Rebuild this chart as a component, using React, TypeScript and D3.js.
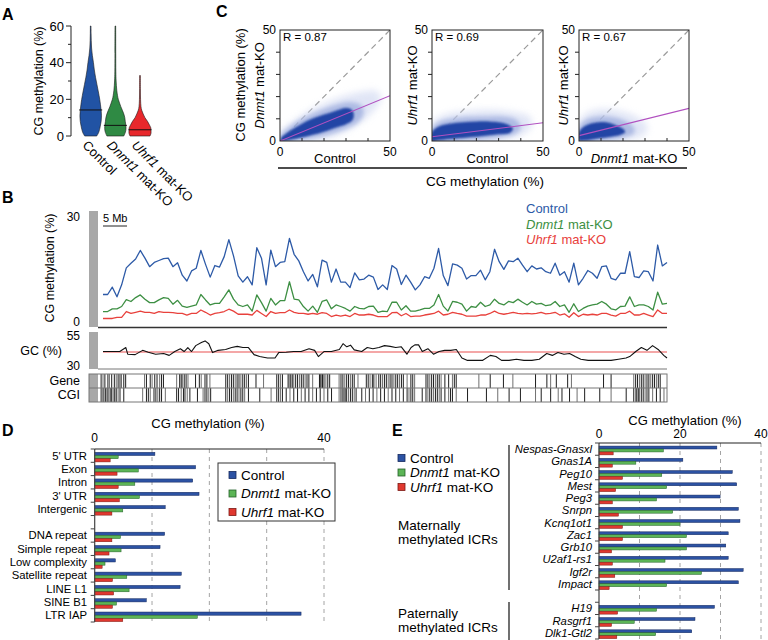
import React from 'react';
import * as d3 from 'd3';

const FONT = '"Liberation Sans", Arial, Helvetica, sans-serif';

// ---------------- Panel A: violins ([value %, relative density]) ----------------
const violinNames = ['Control', 'Dnmt1', 'Uhrf1'];
const violinControl = [[0,0.55],[2,0.73],[5,0.86],[8,0.95],[11,0.98],[14,0.95],[17,0.89],[20,0.82],[24,0.7],[28,0.57],[32,0.44],[36,0.33],[40,0.25],[44,0.15],[48,0.08],[52,0.05],[56,0.035],[60,0.03]];
const violinDnmt1 = [[0,0.77],[2,0.91],[4,0.97],[6,0.95],[8,0.9],[10,0.86],[12,0.77],[14,0.64],[16,0.5],[18,0.38],[20,0.27],[22,0.2],[25,0.13],[30,0.07],[35,0.045],[45,0.035],[60,0.03]];
const violinUhrf1 = [[0,0.91],[1.5,1.0],[3,1.0],[4.5,0.98],[6,0.86],[8,0.68],[10,0.45],[12,0.29],[14,0.16],[16,0.09],[20,0.05],[26,0.035],[33,0.03]];
const violinMedians = [14.2, 5.8, 3.4];

// ---------------- Panel C: scatter density clouds ----------------
const scatterR = ['0.87', '0.69', '0.67'];
const fitStart = [0, 1.9, 2.4];
const fitEnd = [20.4, 8.2, 14.7];
const cloudCore1 = [[0.5,1.5],[3,3.5],[6,5.5],[10,7.8],[14,9.8],[18,11.3],[22,12.5],[26,13.8],[29,14.8],[32,14.5],[33.5,12.5],[33,9.5],[30,7.6],[26,6.2],[20,4.2],[15,2.8],[10,1.6],[5,0.6],[1.5,0],[0.3,0.2]];
const cloudMid1 = [[0,2.5],[3,5.5],[8,9],[14,12],[20,14.5],[26,16.5],[32,17.5],[37,16],[38,12],[35,8],[30,5.5],[22,2.8],[14,1],[6,0],[0,0]];
const cloudOuter1 = [[0,4],[5,8],[12,13],[20,17],[28,20],[36,22],[44,22.5],[46,19],[42,13],[36,8],[28,3.5],[18,0.5],[10,0],[0,0]];
const cloudCore2 = [[0,4],[3,6.5],[8,7.8],[14,8.5],[20,8.8],[26,8.8],[31,8.3],[35,7],[36.5,5.5],[35,3.6],[30,3],[24,2.4],[16,1.6],[8,0.9],[3,0.3],[0,0]];
const cloudMid2 = [[0,6],[4,9],[12,10.5],[22,11],[32,11],[38,9.5],[40,6],[37,3],[30,1.5],[15,0],[0,0]];
const cloudOuter2 = [[0,8],[6,12],[16,13.5],[28,14],[37,13],[44,11],[45,7],[41,3],[30,0.5],[15,0],[0,0]];
const cloudCore3 = [[0,0.5],[0,4],[2,6.3],[5,7.8],[9,8.5],[13,8.3],[17,7],[20,5.5],[21,4],[19,2.8],[14,1.8],[8,1],[3,0.2]];
const cloudMid3 = [[0,6.5],[3,9.5],[9,11],[15,10.8],[21,9],[25,6],[25,3.5],[20,1.5],[10,0],[0,0]];
const cloudOuter3 = [[0,9],[4,13],[11,14.5],[19,13.5],[26,11],[31,7],[30,3],[22,0.5],[10,0],[0,0]];

// ---------------- Panel B: chromosome tracks (1 bin ≈ 0.97 Mb) ----------------
const binSizeMb = 0.97;
const controlTrack = [8.4,8.4,10.3,7.8,10.9,15.3,16.5,17.6,19.8,17.8,15.6,16.7,17.2,17.7,17.8,15.6,16.6,13.4,11.9,14.5,15.2,19.8,16.2,12.9,15.9,15.5,18.2,22.6,18.4,13.2,11.6,13.0,10.9,20.5,17.8,10.9,19.9,15.6,16.7,16.9,
  22.9,18.8,17.1,14.3,11.9,13.6,10.4,17.3,16.7,11.6,15.0,11.6,11.6,10.2,14.0,12.2,12.4,13.4,12.9,9.7,10.9,9.7,15.9,15.0,11.0,13.4,11.6,9.6,10.9,13.0,12.6,15.2,20.3,13.3,10.7,16.3,16.0,15.2,12.4,13.3,13.3,14.7,
  12.2,14.3,20.1,16.9,14.9,17.1,16.9,17.8,16.0,14.3,15.8,15.0,15.3,14.3,13.9,16.5,13.4,14.3,11.6,16.5,10.9,12.6,14.6,13.9,12.6,15.6,15.8,12.6,12.2,13.9,13.9,19.5,13.0,12.8,14.5,14.3,11.9,21.2,15.8,16.7];
const dnmt1Track = [4.0,4.0,4.7,4.7,5.3,7.1,6.6,7.6,8.3,7.2,6.3,6.3,7.0,7.6,7.4,5.9,6.9,5.4,5.1,5.4,5.7,8.4,7.0,5.7,6.1,6.1,7.8,9.6,7.2,5.7,5.3,5.7,4.1,8.3,6.3,4.1,7.4,5.7,6.8,6.8,
  11.7,7.2,7.0,5.3,4.1,5.4,3.8,6.6,7.0,4.7,5.7,5.3,4.8,4.1,5.3,4.8,4.7,5.3,5.4,3.8,4.1,4.0,6.4,6.4,4.4,5.5,4.1,4.1,4.4,4.8,4.8,5.7,8.4,5.4,4.1,6.6,6.4,5.9,4.1,5.3,5.1,6.4,
  5.3,5.7,7.2,6.1,5.7,6.6,6.3,7.2,6.4,5.7,6.6,5.9,6.1,5.5,5.7,6.6,5.3,5.7,3.8,6.0,4.0,4.8,5.4,5.7,5.9,6.6,5.9,4.7,4.4,5.3,5.4,7.8,5.3,5.7,5.7,5.3,4.4,9.0,5.9,6.1];
const uhrf1Track = [2.2,2.2,2.2,2.5,2.5,4.0,3.5,3.8,4.1,3.8,3.8,3.5,4.0,3.8,3.8,3.7,3.5,3.5,3.1,3.5,3.5,4.4,3.8,3.1,3.5,3.7,4.0,4.6,4.1,3.3,3.3,3.3,3.1,4.3,3.5,2.7,4.0,3.5,3.7,3.7,
  4.4,3.8,3.5,3.5,3.3,3.5,3.3,3.7,3.5,2.7,3.1,2.8,3.1,2.7,3.5,3.1,3.1,3.3,3.1,2.7,2.7,2.7,3.7,3.8,2.9,3.5,2.7,2.8,2.8,3.1,3.3,3.5,4.1,3.1,3.3,3.8,3.5,3.3,2.8,2.8,2.8,3.1,
  3.1,3.5,4.1,3.5,3.3,3.5,3.8,3.5,3.4,3.5,3.4,3.5,3.8,3.4,3.5,3.8,3.1,3.4,2.5,3.7,2.7,3.3,3.1,3.3,3.1,3.5,3.5,3.1,2.8,3.5,3.5,4.1,3.1,3.1,3.5,3.1,2.7,4.4,3.5,3.5];
const gcPos = [0,3.6,4.9,5.3,6.9,8.5,9.7,11.3,13.0,14.2,15.4,16.6,17.4,18.2,19.0,19.9,21.1,21.9,22.7,23.5,24.7,26.3,27.6,28.8,30.0,31.2,32.4,33.6,35.3,36.9,37.7,39.3,40.9,42.5,44.2,45.4,46.2,47.4,49.0,50.7,51.5,52.3,53.1,53.9,55.5,56.7,57.9,59.2,60.4,61.6,62.8,64.0,65.2,66.1,66.9,67.7,68.5,69.7,70.9,72.1,73.3,74.6,75.8,77.0,78.2,79.8,81.4,83.1,84.3,85.5,87.1,88.7,90.3,92.0,93.6,95.2,96.4,97.6,98.9,100.1,101.3,102.5,104.1,105.8,107.4,109.0,110.6,112.2,113.0,114.3,115.5,116.7,117.9,119.1,120.3,121.0];
const gcVal = [41.8,41.8,44.5,40.0,39.7,42.6,41.3,40.0,40.5,39.2,41.8,43.7,41.8,44.5,41.8,45.8,47.9,49.0,47.1,41.1,42.6,43.2,44.5,45.3,44.5,44.5,39.7,38.4,37.4,37.4,41.1,41.3,41.8,41.8,43.7,42.6,38.4,41.8,41.8,43.2,47.1,45.0,46.1,42.9,41.8,44.5,43.7,44.5,45.8,45.3,44.5,45.0,40.0,44.5,46.3,46.3,41.8,43.7,40.0,41.8,42.6,42.6,43.2,37.4,35.8,35.8,35.8,39.2,38.4,35.8,35.8,36.6,35.8,35.8,36.6,40.5,39.2,41.1,40.0,40.5,38.4,36.6,35.8,35.8,35.8,35.8,36.6,37.4,38.4,41.8,44.5,42.6,45.8,43.2,39.2,37.4];
const gcMean = 41.5;
// positions in track units (0.079 Mb each, 55 = chromosome start)
const genePos = [50,55,60,68,72,78,85,90,95,100,104,110,115,165,170,180,185,192,198,205,210,215,250,258,262,265,270,275,280,300,310,315,325,330,338,380,385,390,395,400,405,410,415,420,425,430,435,440,460,480,515,520,525,530,545,548,552,556,560,565,570,575,580,585,590,595,600,610,628,630,633,636,640,645,650,655,680,685,690,695,700,705,710,715,720,730,752,757,762,768,772,778,785,790,795,800,805,810,815,820,825,830,835,840,845,850,860,870,875,880,910,915,920,925,930,935,940,945,950,960,970,980,985,990,1050,1080,1115,1140,1200,1230,1240,1255,1285,1295,1380,1400,1460,1465,1470,1475,1480,1485,1490,1495,1500,1505,1510,1515,1520,1525,1530];
const cgiPos = [50,55,58,62,66,70,74,78,82,86,90,95,100,110,160,170,175,180,190,195,200,205,210,220,250,255,262,268,272,278,285,305,320,325,330,335,340,380,385,390,395,400,405,410,415,420,425,430,440,470,500,515,520,525,530,540,550,560,570,580,590,600,610,620,630,640,650,660,680,685,690,693,696,700,705,710,715,720,725,740,750,760,770,780,790,800,810,820,830,840,850,860,865,870,875,880,900,910,915,920,925,930,935,940,945,950,960,970,975,980,990,1020,1070,1100,1130,1160,1200,1215,1240,1260,1270,1290,1310,1330,1370,1400,1440,1460,1465,1468,1472,1475,1480,1485,1490,1495,1500,1510,1520,1530,1540];

// ---------------- Panel D ----------------
const categoriesD = ["5' UTR", 'Exon', 'Intron', "3' UTR", 'Intergenic', '', 'DNA repeat', 'Simple repeat', 'Low complexity', 'Satellite repeat', 'LINE L1', 'SINE B1', 'LTR IAP'];
const controlD = [10.5, 17.6, 17.1, 18.2, 12.3, null, 12.2, 11.4, 3.6, 15.1, 14.9, 9.0, 36.0];
const dnmt1D = [4.1, 7.6, 7.0, 7.8, 4.9, null, 4.5, 4.6, 1.8, 5.6, 6.0, 3.8, 17.9];
const uhrf1D = [2.7, 3.9, 4.1, 4.3, 3.0, null, 3.0, 2.5, 1.3, 3.1, 3.3, 3.1, 4.9];

// ---------------- Panel E ----------------
const categoriesE = ['Nespas-Gnasxl', 'Gnas1A', 'Peg10', 'Mest', 'Peg3', 'Snrpn', 'Kcnq1ot1', 'Zac1', 'Grb10', 'U2af1-rs1', 'Igf2r', 'Impact', '', 'H19', 'Rasgrf1', 'Dlk1-Gtl2'];
const controlE = [29.1, 20.7, 32.9, 34.0, 29.9, 34.4, 34.8, 31.9, 31.3, 31.9, 35.6, 34.4, null, 28.5, 23.7, 22.9];
const dnmt1E = [15.9, 9.1, 15.5, 16.7, 14.2, 18.2, 20.0, 21.6, 21.6, 16.3, 25.3, 16.7, null, 14.2, 8.7, 14.0];
const uhrf1E = [3.5, 3.3, 5.8, 4.1, 3.3, 4.8, 5.8, 5.8, 3.1, 3.3, 3.9, 2.5, null, 4.6, 3.1, 4.4];

const LINE_BLUE = '#2d5aa7';
const LINE_GREEN = '#3d8f43';
const LINE_RED = '#e8413c';
const BAR_FILL = ['#2c52a3', '#5cb556', '#e0382f'];
const BAR_STROKE = ['#15285c', '#24602a', '#7c1a14'];

const Legend3 = ({ x, y, dy, size }: any) => (
  <g fontSize={size}>
    {[0, 1, 2].map((i) => (
      <g key={i}>
        <rect x={x} y={y + i * dy - 3.5} width={7} height={7} fill={BAR_FILL[i]} stroke={BAR_STROKE[i]} strokeWidth={0.8} />
        <text x={x + 12} y={y + i * dy} dy="0.35em">
          {i === 0 ? 'Control' : <><tspan fontStyle="italic">{i === 1 ? 'Dnmt1' : 'Uhrf1'}</tspan>{' mat-KO'}</>}
        </text>
      </g>
    ))}
  </g>
);

function PanelA() {
  const y = d3.scaleLinear().domain([0, 60]).range([136, 26]);
  const x = d3.scalePoint<string>().domain(violinNames).range([90.7, 140]);
  const w = d3.scaleLinear().domain([0, 1]).range([0, 11]);
  const data = [violinControl, violinDnmt1, violinUhrf1];
  const fills = ['#2153a4', '#2f8a44', '#e8282c'];
  return (
    <g>
      <text x={2} y={20} fontSize={16} fontWeight="bold">A</text>
      <line x1={71} x2={71} y1={y(60)} y2={y(0)} stroke="#222" />
      {d3.range(0, 61, 10).map((v) => (
        <line key={v} x1={71 - (v % 20 === 0 ? 5 : 3)} x2={71} y1={y(v)} y2={y(v)} stroke="#222" />
      ))}
      {[0, 20, 40, 60].map((v) => (
        <text key={v} x={64} y={y(v)} dy="0.35em" textAnchor="end" fontSize={13}>{v}</text>
      ))}
      <text transform={`translate(39,${(y(0) + y(60)) / 2}) rotate(-90)`} textAnchor="middle" dy="0.35em" fontSize={12.5}>CG methylation (%)</text>
      {violinNames.map((n, i) => {
        const cx = x(n)!;
        const area = d3.area<number[]>().y((d) => y(d[0])).x0((d) => cx - w(d[1])).x1((d) => cx + w(d[1])).curve(d3.curveCatmullRom);
        return (
          <g key={n}>
            <path d={area(data[i] as any)!} fill={fills[i]} stroke="#1a1a1a" strokeWidth={0.6} />
            <line x1={cx - 11.5} x2={cx + 11.5} y1={y(violinMedians[i])} y2={y(violinMedians[i])} stroke="#111" strokeWidth={1} />
            <text transform={`translate(${cx - 9},146) rotate(45)`} fontSize={13}>
              {i === 0 ? 'Control' : <><tspan fontStyle="italic">{n}</tspan>{' mat-KO'}</>}
            </text>
          </g>
        );
      })}
    </g>
  );
}

function Scatter({ idx, left, right, ylab, ylabX, xlab }: any) {
  const top = 30, bottom = 141;
  const xs = d3.scaleLinear().domain([0, 50]).range([left, right]);
  const ys = d3.scaleLinear().domain([0, 50]).range([bottom, top]);
  const clouds = [[cloudOuter1, cloudMid1, cloudCore1], [cloudOuter2, cloudMid2, cloudCore2], [cloudOuter3, cloudMid3, cloudCore3]][idx];
  const shape = d3.line<number[]>().x((d) => xs(d[0])).y((d) => ys(d[1])).curve(d3.curveCatmullRomClosed.alpha(0.5));
  const fills = ['#d0d8f1', '#8c9fd8', '#2445a5'];
  const ops = [0.65, 0.6, 1];
  const blurs = ['blur3', 'blur2', 'blur1'];
  return (
    <g>
      <defs>
        <clipPath id={`clip${idx}`}><rect x={left} y={top} width={right - left} height={bottom - top} /></clipPath>
      </defs>
      <g clipPath={`url(#clip${idx})`}>
        <line x1={xs(0)} y1={ys(0)} x2={xs(50)} y2={ys(50)} stroke="#9a9a9a" strokeWidth={1.2} strokeDasharray="6,4" />
        {clouds.map((c: any, k: number) => (
          <path key={k} d={shape(c)!} fill={fills[k]} opacity={ops[k]} filter={`url(#${blurs[k]})`} />
        ))}
        <line x1={xs(0)} y1={ys(fitStart[idx])} x2={xs(50)} y2={ys(fitEnd[idx])} stroke="#b150c0" strokeWidth={1.1} />
      </g>
      <rect x={left} y={top} width={right - left} height={bottom - top} fill="none" stroke="#222" strokeWidth={1} />
      {[10, 20, 30, 40].map((v) => (
        <g key={v}>
          <line x1={left - 4} x2={left} y1={ys(v)} y2={ys(v)} stroke="#222" />
          <line x1={xs(v)} x2={xs(v)} y1={bottom} y2={bottom - 3} stroke="#222" />
        </g>
      ))}
      <text x={left - 4} y={ys(50)} dy="0.35em" textAnchor="end" fontSize={12}>50</text>
      <text x={left - 4} y={ys(0)} dy="0.35em" textAnchor="end" fontSize={12}>0</text>
      <text x={xs(0)} y={152} dy="0.35em" textAnchor="middle" fontSize={12}>0</text>
      <text x={xs(50)} y={152} dy="0.35em" textAnchor="middle" fontSize={12}>50</text>
      <text x={left + 3} y={37} dy="0.35em" fontSize={11.5}>R = {scatterR[idx]}</text>
      <text transform={`translate(${ylabX},${(top + bottom) / 2}) rotate(-90)`} textAnchor="middle" dy="0.35em" fontSize={13}>
        <tspan fontStyle="italic">{ylab}</tspan>{' mat-KO'}
      </text>
      <text x={(left + right) / 2} y={158} dy="0.35em" textAnchor="middle" fontSize={13}>
        {xlab === 'Control' ? 'Control' : <><tspan fontStyle="italic">{xlab}</tspan>{' mat-KO'}</>}
      </text>
    </g>
  );
}

function PanelC() {
  return (
    <g>
      <text x={216} y={17} fontSize={16} fontWeight="bold">C</text>
      <text transform="translate(240,85) rotate(-90)" textAnchor="middle" dy="0.35em" fontSize={13}>CG methylation (%)</text>
      <Scatter idx={0} left={280} right={390} ylab="Dnmt1" ylabX={259} xlab="Control" />
      <Scatter idx={1} left={432} right={543} ylab="Uhrf1" ylabX={412} xlab="Control" />
      <Scatter idx={2} left={579} right={689} ylab="Uhrf1" ylabX={563} xlab="Dnmt1" />
      <line x1={278} x2={687} y1={168} y2={168} stroke="#111" strokeWidth={1.3} />
      <text x={485} y={181} dy="0.35em" textAnchor="middle" fontSize={13.5}>CG methylation (%)</text>
    </g>
  );
}

function PanelB() {
  const x = d3.scaleLinear().domain([0, 121]).range([103, 667]);
  const y = d3.scaleLinear().domain([0, 30]).range([327, 211]);
  const yGC = d3.scaleLinear().domain([30, 55]).range([369, 332]);
  const xt = d3.scaleLinear().domain([55, 1548]).range([103, 667]);
  const line = d3.line<number>().x((_, i) => x(i)).y((d) => y(d));
  const gcLine = d3.line<number>().x((_, i) => x(gcPos[i])).y((d) => yGC(d));
  const series = [controlTrack, dnmt1Track, uhrf1Track];
  const cols = [LINE_BLUE, LINE_GREEN, LINE_RED];
  const geneTop = 374, geneMid = 388, geneBot = 402;
  return (
    <g>
      <text x={2} y={203} fontSize={16} fontWeight="bold">B</text>
      <rect x={89} y={211} width={9} height={116} fill="#a8a8a8" />
      <text x={80} y={217} dy="0.35em" textAnchor="end" fontSize={12}>30</text>
      <text x={80} y={322} dy="0.35em" textAnchor="end" fontSize={12}>0</text>
      <text transform="translate(50,268) rotate(-90)" textAnchor="middle" dy="0.35em" fontSize={12.5}>CG methylation (%)</text>
      <line x1={x(0)} x2={x(5 / binSizeMb)} y1={226} y2={226} stroke="#222" strokeWidth={1} />
      <text x={x(0)} y={218} dy="0.35em" fontSize={11}>5 Mb</text>
      {series.map((s, i) => (
        <path key={i} d={line(s)!} fill="none" stroke={cols[i]} strokeWidth={1.3} strokeLinejoin="round" />
      )).reverse()}
      <line x1={98} x2={667} y1={327.5} y2={327.5} stroke="#333" strokeWidth={1.6} />
      <text x={526} y={208} dy="0.35em" fontSize={13} fill={LINE_BLUE}>Control</text>
      <text x={526} y={224} dy="0.35em" fontSize={13} fill={LINE_GREEN}><tspan fontStyle="italic">Dnmt1</tspan>{' mat-KO'}</text>
      <text x={526} y={239} dy="0.35em" fontSize={13} fill={LINE_RED}><tspan fontStyle="italic">Uhrf1</tspan>{' mat-KO'}</text>

      {/* GC track */}
      <rect x={89} y={332} width={9} height={37} fill="#a8a8a8" />
      <line x1={98} x2={667} y1={369} y2={369} stroke="#777" strokeWidth={1} />
      <line x1={x(0)} x2={667} y1={yGC(gcMean)} y2={yGC(gcMean)} stroke="#f08a8a" strokeWidth={1.4} />
      <path d={gcLine(gcVal)!} fill="none" stroke="#111" strokeWidth={1.1} strokeLinejoin="round" />
      <text x={80} y={336} dy="0.35em" textAnchor="end" fontSize={12}>55</text>
      <text x={80} y={366} dy="0.35em" textAnchor="end" fontSize={12}>30</text>
      <text x={62} y={351} dy="0.35em" textAnchor="end" fontSize={12.5}>GC (%)</text>

      {/* Gene / CGI */}
      <rect x={89} y={geneTop} width={9} height={geneBot - geneTop} fill="#a8a8a8" />
      {genePos.map((p, i) => (
        <line key={'g' + i} x1={xt(p)} x2={xt(p)} y1={geneTop} y2={geneMid} stroke="#111" strokeWidth={1} opacity={i % 3 === 1 ? 0.6 : 0.95} />
      ))}
      {cgiPos.map((p, i) => (
        <line key={'c' + i} x1={xt(p)} x2={xt(p)} y1={geneMid} y2={geneBot} stroke="#111" strokeWidth={1} opacity={i % 3 === 2 ? 0.6 : 0.95} />
      ))}
      <rect x={89} y={geneTop} width={667 - 89} height={geneBot - geneTop} fill="none" stroke="#777" strokeWidth={1} />
      <line x1={89} x2={667} y1={geneMid} y2={geneMid} stroke="#777" strokeWidth={1} />
      <text x={80} y={381} dy="0.35em" textAnchor="end" fontSize={12.5}>Gene</text>
      <text x={80} y={395} dy="0.35em" textAnchor="end" fontSize={12.5}>CGI</text>
    </g>
  );
}

function Bars({ cats, vals, x, top, bottom, labelX, italic }: any) {
  const y = d3.scaleBand<string>().domain(cats.map((_: any, i: number) => String(i))).range([top, bottom]);
  const bw = y.bandwidth();
  const sub = d3.scaleBand<number>().domain([0, 1, 2]).range([0.25 * bw, 0.97 * bw]);
  const x0 = x(0);
  return (
    <g>
      {[10, 20, 30, 40].map((v) => (
        <line key={v} x1={x(v)} x2={x(v)} y1={top} y2={bottom} stroke="#9a9a9a" strokeDasharray="4,4" strokeWidth={0.9} />
      ))}
      {cats.map((c: string, i: number) => (
        <g key={i}>
          {vals.map((s: any[], k: number) =>
            s[i] == null ? null : (
              <rect key={k} x={x0} y={y(String(i))! + sub(k)!} width={x(s[i]) - x0} height={sub.bandwidth()} fill={BAR_FILL[k]} stroke={BAR_STROKE[k]} strokeWidth={0.5} />
            )
          )}
          <text x={labelX} y={y(String(i))! + bw / 2} dy="0.35em" textAnchor="end" fontSize={11.3} fontStyle={italic ? 'italic' : 'normal'}>{c}</text>
        </g>
      ))}
      {cats.map((_: any, i: number) => (
        <line key={'t' + i} x1={x0 - 4} x2={x0} y1={y(String(i))!} y2={y(String(i))!} stroke="#444" />
      ))}
      <line x1={x0 - 4} x2={x0} y1={bottom} y2={bottom} stroke="#444" />
      <line x1={x0} x2={x0} y1={top} y2={bottom} stroke="#444" strokeWidth={1.2} />
      <line x1={x0} x2={x(40)} y1={top} y2={top} stroke="#222" strokeWidth={1.2} />
    </g>
  );
}

function PanelD() {
  const x = d3.scaleLinear().domain([0, 40]).range([94.7, 324]);
  return (
    <g>
      <text x={2} y={436} fontSize={16} fontWeight="bold">D</text>
      <text x={208} y={428} textAnchor="middle" fontSize={13}>CG methylation (%)</text>
      {[0, 40].map((v) => (
        <text key={v} x={x(v)} y={438} dy="0.35em" textAnchor="middle" fontSize={12}>{v}</text>
      ))}
      <Bars cats={categoriesD} vals={[controlD, dnmt1D, uhrf1D]} x={x} top={449} bottom={622} labelX={87} italic={false} />
      <rect x={218} y={463} width={117} height={58} fill="#fff" stroke="#333" strokeWidth={1} />
      <Legend3 x={229} y={475} dy={18.5} size={13.5} />
    </g>
  );
}

function PanelE() {
  const x = d3.scaleLinear().domain([0, 40]).range([599, 761]);
  return (
    <g>
      <text x={392} y={436} fontSize={16} fontWeight="bold">E</text>
      <text x={685} y={425} textAnchor="middle" fontSize={13}>CG methylation (%)</text>
      {[0, 20, 40].map((v) => (
        <text key={v} x={x(v)} y={434} dy="0.35em" textAnchor="middle" fontSize={12}>{v}</text>
      ))}
      <Bars cats={categoriesE} vals={[controlE, dnmt1E, uhrf1E]} x={x} top={443} bottom={639} labelX={592} italic={true} />
      <Legend3 x={398} y={458} dy={14.5} size={13.5} />
      <line x1={509} x2={509} y1={445} y2={590} stroke="#111" strokeWidth={1.2} />
      <line x1={509} x2={509} y1={602} y2={640} stroke="#111" strokeWidth={1.2} />
      <text x={398} y={525} dy="0.35em" fontSize={13.5}>Maternally</text>
      <text x={398} y={539} dy="0.35em" fontSize={13.5}>methylated ICRs</text>
      <text x={398} y={613} dy="0.35em" fontSize={13.5}>Paternally</text>
      <text x={398} y={627} dy="0.35em" fontSize={13.5}>methylated ICRs</text>
    </g>
  );
}

export default function App() {
  return (
    <svg width={768} height={640} viewBox="0 0 768 640" style={{ position: 'absolute', left: 0, top: 0, background: '#fff' }} fontFamily={FONT}>
      <defs>
        <filter id="blur1" x="-20%" y="-20%" width="140%" height="140%"><feGaussianBlur stdDeviation="0.9" /></filter>
        <filter id="blur2" x="-20%" y="-20%" width="140%" height="140%"><feGaussianBlur stdDeviation="2.2" /></filter>
        <filter id="blur3" x="-20%" y="-20%" width="140%" height="140%"><feGaussianBlur stdDeviation="3.5" /></filter>
      </defs>
      <rect width={768} height={640} fill="#fff" />
      <PanelA />
      <PanelC />
      <PanelB />
      <PanelD />
      <PanelE />
    </svg>
  );
}
